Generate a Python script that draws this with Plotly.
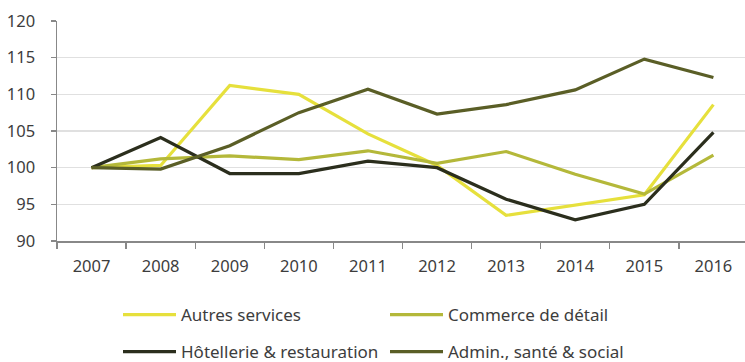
import plotly.graph_objects as go

years = ["2007", "2008", "2009", "2010", "2011", "2012", "2013", "2014", "2015", "2016"]
autres = [100, 100.3, 111.2, 110.0, 104.6, 100.3, 93.5, 94.9, 96.3, 108.6]
commerce = [100, 101.2, 101.6, 101.1, 102.3, 100.6, 102.2, 99.1, 96.4, 101.7]
hotellerie = [100, 104.1, 99.2, 99.2, 100.9, 100.0, 95.7, 92.9, 95.0, 104.8]
admin = [100, 99.8, 103.0, 107.5, 110.7, 107.3, 108.6, 110.6, 114.8, 112.3]
y_ticks = [90, 95, 100, 105, 110, 115, 120]

FONT = "Noto Sans"
TXT = "#3d3d3d"

series = [
    ("Autres services", autres, "#e6e03c", "legend"),
    ("Commerce de détail", commerce, "#b4b83a", "legend"),
    ("Hôtellerie & restauration", hotellerie, "#2b2e1d", "legend2"),
    ("Admin., santé & social", admin, "#5a5e26", "legend2"),
]

fig = go.Figure()
for name, vals, col, lg in series:
    fig.add_trace(go.Scatter(x=years, y=vals, name=name, mode="lines",
                             line=dict(color=col, width=3.2), legend=lg,
                             hoverinfo="skip"))

W, H = 745, 362
leg_common = dict(orientation="h", xref="container", yref="container",
                  xanchor="left", yanchor="middle", bgcolor="rgba(0,0,0,0)",
                  font=dict(family=FONT, size=17, color=TXT),
                  itemwidth=53, entrywidth=199, entrywidthmode="pixels",
                  tracegroupgap=0, itemclick=False, traceorder="normal")

fig.update_layout(
    width=W, height=H,
    margin=dict(l=57, r=0, t=21, b=121),
    paper_bgcolor="white", plot_bgcolor="white",
    font=dict(family=FONT, size=16.5, color=TXT),
    showlegend=True,
    legend=dict(x=118 / W, y=1 - 315 / H, **leg_common),
    legend2=dict(x=118 / W, y=1 - 352 / H, **leg_common),
    xaxis=dict(type="category", range=[-0.5, 9.457], tickson="boundaries",
               ticks="outside", ticklen=6, tickcolor="#888888", tickwidth=1.3,
               showline=True, linecolor="#888888", linewidth=1.5,
               showgrid=False, ticklabelstandoff=10,
               tickfont=dict(family=FONT, size=16.5, color=TXT)),
    yaxis=dict(range=[90, 120], tickvals=y_ticks, ticks="outside", ticklen=5,
               tickcolor="#888888", tickwidth=1.3,
               showline=True, linecolor="#888888", linewidth=1.5,
               showgrid=True, gridcolor="#e0e0e0", gridwidth=1.3, zeroline=False,
               ticklabelstandoff=12,
               tickfont=dict(family=FONT, size=16.5, color=TXT)),
)

fig.write_html("out.html", config={"displayModeBar": False, "staticPlot": True},
               post_script="document.body.style.margin='0';document.body.style.overflow='hidden';")
